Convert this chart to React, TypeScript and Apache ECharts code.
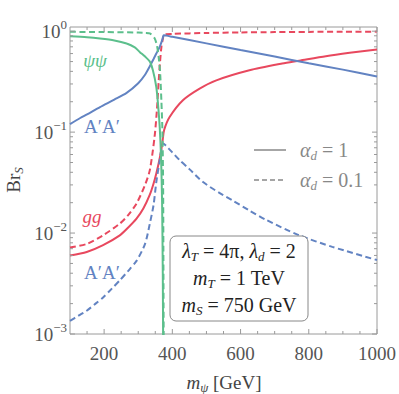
import React, { useEffect, useRef } from 'react';
import * as echarts from 'echarts';

// A'A' channel, alpha_d = 1 (solid) and alpha_d = 0.1 (dashed)
const aaSolidX = [100, 130, 150, 188, 230, 266, 300, 320, 334, 345, 353, 363, 371, 375, 400, 500, 600, 700, 800, 900, 1000];
const aaSolidY = [0.12, 0.138, 0.15, 0.177, 0.21, 0.245, 0.305, 0.37, 0.45, 0.53, 0.6, 0.7, 0.83, 0.91, 0.88, 0.757, 0.65, 0.56, 0.48, 0.416, 0.355];
const aaDashX = [100, 125, 149, 175, 197, 222, 246, 270, 295, 320, 334, 345, 353, 362, 368, 373, 380, 400, 421, 450, 490, 538, 577, 625, 675, 772, 869, 1000];
const aaDashY = [0.00135, 0.00152, 0.0017, 0.002, 0.0023, 0.0028, 0.0034, 0.0042, 0.0053, 0.0078, 0.0124, 0.019, 0.032, 0.05, 0.068, 0.077, 0.074, 0.063, 0.053, 0.043, 0.032, 0.025, 0.021, 0.0168, 0.0135, 0.0095, 0.0073, 0.0054];

// gg channel
const ggSolidX = [100, 149, 197, 246, 270, 295, 315, 334, 345, 353, 362, 368, 372, 376, 392, 431, 480, 529, 626, 722, 772, 850, 920, 1000];
const ggSolidY = [0.006, 0.0065, 0.0076, 0.0095, 0.0113, 0.0139, 0.0175, 0.024, 0.031, 0.039, 0.053, 0.068, 0.085, 0.105, 0.141, 0.207, 0.27, 0.326, 0.41, 0.478, 0.51, 0.565, 0.61, 0.66];
const ggDashX = [100, 149, 197, 246, 270, 295, 320, 334, 348, 355, 360, 364, 368, 371, 373, 375, 400, 500, 600, 700, 800, 900, 1000];
const ggDashY = [0.0072, 0.0078, 0.0095, 0.0124, 0.015, 0.0196, 0.03, 0.042, 0.09, 0.17, 0.32, 0.5, 0.7, 0.8, 0.87, 0.925, 0.94, 0.96, 0.972, 0.979, 0.984, 0.987, 0.99];

// psi psi channel
const ppSolidX = [100, 150, 188, 230, 266, 290, 305, 320, 334, 343, 353, 358, 363, 367, 370, 372, 373, 374];
const ppSolidY = [0.89, 0.87, 0.846, 0.81, 0.755, 0.69, 0.62, 0.56, 0.5, 0.41, 0.28, 0.19, 0.112, 0.055, 0.02, 0.004, 0.0009, 0.0002];
const ppDashX = [100, 200, 300, 320, 334, 348, 355, 360, 364, 368, 371, 373, 374, 375];
const ppDashY = [0.985, 0.98, 0.97, 0.962, 0.95, 0.85, 0.72, 0.55, 0.4, 0.2, 0.1, 0.03, 0.004, 0.0003];

const xMajorTicks = [200, 400, 600, 800, 1000];
const xMinorTicks = [150, 250, 300, 350, 450, 500, 550, 650, 700, 750, 850, 900, 950];
const yMajorTicks = [0.001, 0.01, 0.1, 1];
const yMinorTicks = [
  0.002, 0.003, 0.004, 0.005, 0.006, 0.007, 0.008, 0.009,
  0.02, 0.03, 0.04, 0.05, 0.06, 0.07, 0.08, 0.09,
  0.2, 0.3, 0.4, 0.5, 0.6, 0.7, 0.8, 0.9,
];

const BLUE = '#6283c2';
const RED = '#e8485e';
const GREEN = '#5cbf8c';
const FRAME = '#9a9a9a';
const SERIF = "'Liberation Serif', 'DejaVu Serif', serif";

const X_MIN = 100;
const X_MAX = 1000;
const Y_MIN = 0.001;
const Y_MAX = 1.1;

function mathRich(color: string, size = 18) {
  const ss = Math.round(size * 0.66);
  const pad = Math.round(size * 0.5);
  return {
    n: { fontFamily: SERIF, fontSize: size, color },
    i: { fontFamily: SERIF, fontSize: size, fontStyle: 'italic', color },
    s: { fontFamily: SERIF, fontSize: ss, fontStyle: 'italic', color, padding: [pad, 0, 0, 0] },
    sn: { fontFamily: SERIF, fontSize: ss, color, padding: [pad, 0, 0, 0] },
  };
}

function txt(x: number, y: number, text: string, color: string, opts: any = {}) {
  const size = opts.size || 18;
  return {
    type: 'text',
    z: 101,
    silent: true,
    rotation: opts.rotation || 0,
    x: opts.rotation ? x : 0,
    y: opts.rotation ? y : 0,
    style: {
      x: opts.rotation ? 0 : x,
      y: opts.rotation ? 0 : y,
      text,
      rich: mathRich(color, size),
      fill: color,
      font: `${size}px ${SERIF}`,
      align: opts.align || 'center',
      textAlign: opts.align || 'center',
      verticalAlign: 'middle',
      textVerticalAlign: 'middle',
    },
  };
}

function lineSeries(xs: number[], ys: number[], color: string, dashed: boolean, z: number) {
  return {
    type: 'line',
    data: xs.map((x, i) => [x, ys[i]]),
    showSymbol: false,
    symbol: 'none',
    silent: true,
    clip: true,
    smooth: 0.25,
    z,
    lineStyle: { color, width: 2, type: dashed ? [6, 3.5] : 'solid' },
  };
}

function tickSeries(data: number[][], isX: boolean) {
  return {
    type: 'custom',
    coordinateSystem: 'cartesian2d',
    silent: true,
    z: 10,
    encode: { x: 0, y: 1 },
    data,
    renderItem: (params: any, api: any) => {
      const cs = params.coordSys;
      const p = api.coord([api.value(0), api.value(1)]);
      const len = api.value(2) ? 5 : 3;
      const style = { stroke: FRAME, lineWidth: 1 };
      if (isX) {
        const yb = cs.y + cs.height;
        const yt = cs.y;
        return {
          type: 'group',
          children: [
            { type: 'line', shape: { x1: p[0], y1: yb, x2: p[0], y2: yb - len }, style },
            { type: 'line', shape: { x1: p[0], y1: yt, x2: p[0], y2: yt + len }, style },
          ],
        };
      }
      const xl = cs.x;
      const xr = cs.x + cs.width;
      return {
        type: 'group',
        children: [
          { type: 'line', shape: { x1: xl, y1: p[1], x2: xl + len, y2: p[1] }, style },
          { type: 'line', shape: { x1: xr, y1: p[1], x2: xr - len, y2: p[1] }, style },
        ],
      };
    },
  };
}

export default function App() {
  const ref = useRef<HTMLDivElement>(null);
  useEffect(() => {
    document.body.style.margin = '0';
    const chart = echarts.init(ref.current as HTMLDivElement, null, { renderer: 'svg' });

    const xTickData = [
      ...xMajorTicks.map((v) => [v, 0.01, 1]),
      ...xMinorTicks.map((v) => [v, 0.01, 0]),
    ];
    const yTickData = [
      ...yMajorTicks.map((v) => [500, v, 1]),
      ...yMinorTicks.map((v) => [500, v, 0]),
    ];

    const option: any = {
      animation: false,
      grid: {
        left: 70,
        top: 27,
        width: 308,
        height: 307,
        show: true,
        borderColor: FRAME,
        borderWidth: 1,
        backgroundColor: 'transparent',
        containLabel: false,
      },
      xAxis: {
        type: 'value',
        min: X_MIN,
        max: X_MAX,
        interval: 100,
        axisLine: { show: false },
        axisTick: { show: false },
        splitLine: { show: false },
        axisLabel: {
          margin: 10,
          color: '#555',
          fontFamily: SERIF,
          fontSize: 19,
          showMinLabel: false,
          formatter: (v: number) => (Math.round(v) % 200 === 0 ? String(Math.round(v)) : ''),
        },
      },
      yAxis: {
        type: 'log',
        logBase: 10,
        min: Y_MIN,
        max: Y_MAX,
        axisLine: { show: false },
        axisTick: { show: false },
        splitLine: { show: false },
        minorTick: { show: false },
        axisLabel: {
          margin: 3,
          formatter: (v: number) => {
            const l = Math.log10(v);
            const e = Math.round(l);
            if (Math.abs(l - e) > 1e-6) return '';
            const ex = e === 0 ? '0' : '\u2212' + String(-e);
            return `{b|10}{s|${ex}}`;
          },
          rich: {
            b: { fontFamily: SERIF, fontSize: 19, color: '#555' },
            s: { fontFamily: SERIF, fontSize: 13, color: '#555', padding: [0, 0, 14, 0] },
          },
        },
      },
      series: [
        lineSeries(ggSolidX, ggSolidY, RED, false, 3),
        lineSeries(ggDashX, ggDashY, RED, true, 3),
        lineSeries(aaSolidX, aaSolidY, BLUE, false, 4),
        lineSeries(aaDashX, aaDashY, BLUE, true, 4),
        lineSeries(ppDashX, ppDashY, GREEN, true, 5),
        lineSeries(ppSolidX, ppSolidY, GREEN, false, 5),
        tickSeries(xTickData, true),
        tickSeries(yTickData, false),
      ],
      graphic: [
        // curve labels
        txt(95, 60, '{i|ψψ}', GREEN, { size: 19 }),
        txt(102, 126, '{n|A′A′}', BLUE, { size: 19 }),
        txt(92, 216, '{i|gg}', RED, { size: 19 }),
        txt(102, 272, '{n|A′A′}', BLUE, { size: 19 }),
        // legend
        {
          type: 'line', z: 101, silent: true,
          shape: { x1: 254, y1: 150, x2: 286, y2: 150 },
          style: { stroke: '#888', lineWidth: 1.5 },
        },
        {
          type: 'line', z: 101, silent: true,
          shape: { x1: 254, y1: 180, x2: 286, y2: 180 },
          style: { stroke: '#888', lineWidth: 1.5, lineDash: [5, 3] },
        },
        txt(300, 150, '{i|α}{s|d}{n| = 1}', '#888', { align: 'left', size: 20 }),
        txt(300, 180, '{i|α}{s|d}{n| = 0.1}', '#888', { align: 'left', size: 20 }),
        // parameter box
        {
          type: 'rect', z: 100, silent: true,
          shape: { x: 170, y: 236, width: 138, height: 85, r: 6 },
          style: { fill: '#ffffff', stroke: '#888', lineWidth: 1 },
        },
        txt(239, 251, '{i|λ}{s|T}{n| = 4π, }{i|λ}{s|d}{n| = 2}', '#222', { size: 20 }),
        txt(239, 278, '{i|m}{s|T}{n| = 1 TeV}', '#222', { size: 20 }),
        txt(239, 305, '{i|m}{s|S}{n| = 750 GeV}', '#222', { size: 20 }),
        // axis titles
        txt(224, 382, '{i|m}{s|ψ}{n| [GeV]}', '#444', { size: 19 }),
        txt(13, 180, '{n|Br}{s|S}', '#444', { rotation: Math.PI / 2, size: 19 }),
      ],
    };

    chart.setOption(option);
    return () => chart.dispose();
  }, []);

  return (
    <div
      ref={ref}
      style={{ position: 'fixed', left: 0, top: 0, width: 399, height: 394, background: '#fff' }}
    />
  );
}
